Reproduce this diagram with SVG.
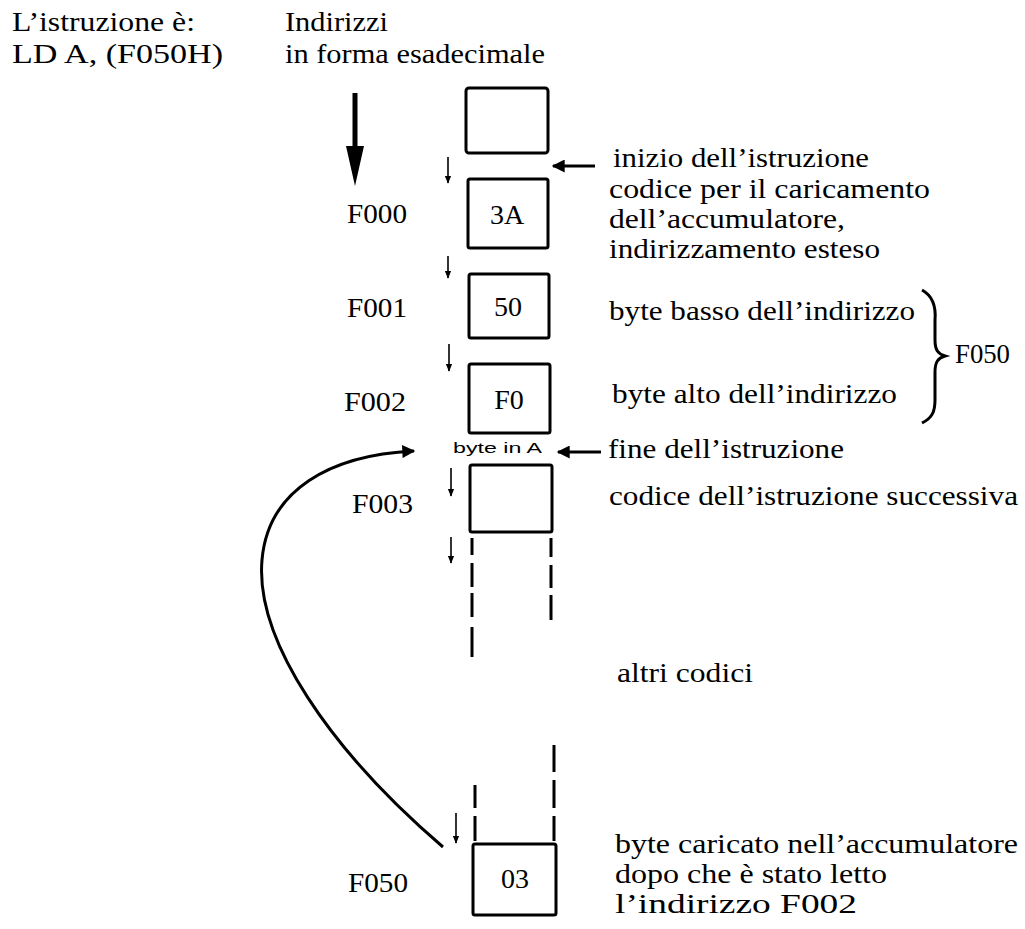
<svg xmlns="http://www.w3.org/2000/svg" width="1025" height="929" viewBox="0 0 1025 929">
<defs>
<style>
.t{font-family:"Liberation Serif","Times New Roman",serif;font-size:28px;fill:#000}
.h{font-family:"Liberation Serif","Times New Roman",serif;font-size:27px;fill:#000}
.s{font-family:"Liberation Sans",Arial,sans-serif;font-size:15px;fill:#000}
.c{text-anchor:middle}
.box{fill:none;stroke:#000;stroke-width:3;stroke-linejoin:round}
.ln{fill:none;stroke:#000;stroke-width:1.6}
.th{fill:none;stroke:#000;stroke-width:3}
.dash{fill:none;stroke:#000;stroke-width:3}
</style>
<marker id="sm" viewBox="0 0 10 10" refX="9" refY="5" markerWidth="8" markerHeight="8" markerUnits="userSpaceOnUse" orient="auto"><path d="M0,1 L10,5 L0,9 z" fill="#000"/></marker>
<marker id="md" viewBox="0 0 10 10" refX="9" refY="5" markerWidth="16" markerHeight="13" markerUnits="userSpaceOnUse" orient="auto"><path d="M0,0 L10,5 L0,10 z" fill="#000"/></marker>
</defs>
<rect width="1025" height="929" fill="#fff"/>

<g id="header">
<text class="h" x="12" y="31" textLength="183" lengthAdjust="spacingAndGlyphs">L’istruzione è:</text>
<text class="h" x="12" y="63" textLength="211" lengthAdjust="spacingAndGlyphs">LD A, (F050H)</text>
<text class="h" x="285" y="31" textLength="103" lengthAdjust="spacingAndGlyphs">Indirizzi</text>
<text class="h" x="285" y="63" textLength="260" lengthAdjust="spacingAndGlyphs">in forma esadecimale</text>
</g>

<g id="cell-top"><rect class="box" x="466" y="88" width="82" height="65" rx="3"/></g>
<g id="cell-F000"><rect class="box" x="468" y="179" width="80" height="69" rx="2"/><text class="t c" x="507" y="224">3A</text><text class="t" x="347" y="223" textLength="60" lengthAdjust="spacingAndGlyphs">F000</text></g>
<g id="cell-F001"><rect class="box" x="469" y="274" width="80" height="64" rx="2"/><text class="t c" x="508" y="316">50</text><text class="t" x="347" y="317" textLength="60" lengthAdjust="spacingAndGlyphs">F001</text></g>
<g id="cell-F002"><rect class="box" x="469" y="364" width="81" height="69" rx="2"/><text class="t c" x="509" y="409">F0</text><text class="t" x="344" y="411" textLength="62" lengthAdjust="spacingAndGlyphs">F002</text></g>
<g id="byte-in-A"><text class="s" x="453" y="453" textLength="89" lengthAdjust="spacingAndGlyphs">byte in A</text></g>
<g id="cell-F003"><rect class="box" x="470" y="465" width="82" height="67" rx="2"/><text class="t" x="352" y="513" textLength="61" lengthAdjust="spacingAndGlyphs">F003</text></g>
<g id="cell-F050"><rect class="box" x="473" y="844" width="83" height="71" rx="2"/><text class="t c" x="515" y="888">03</text><text class="t" x="348" y="892" textLength="60" lengthAdjust="spacingAndGlyphs">F050</text></g>

<g id="labels">
<text class="t" x="613" y="167" textLength="256" lengthAdjust="spacingAndGlyphs">inizio dell’istruzione</text>
<text class="t" x="609" y="198" textLength="321" lengthAdjust="spacingAndGlyphs">codice per il caricamento</text>
<text class="t" x="609" y="228" textLength="236" lengthAdjust="spacingAndGlyphs">dell’accumulatore,</text>
<text class="t" x="609" y="258" textLength="271" lengthAdjust="spacingAndGlyphs">indirizzamento esteso</text>
<text class="t" x="609" y="320" textLength="306" lengthAdjust="spacingAndGlyphs">byte basso dell’indirizzo</text>
<text class="t" x="612" y="403" textLength="285" lengthAdjust="spacingAndGlyphs">byte alto dell’indirizzo</text>
<text class="t" x="955" y="363" textLength="55" lengthAdjust="spacingAndGlyphs">F050</text>
<text class="t" x="608" y="458" textLength="236" lengthAdjust="spacingAndGlyphs">fine dell’istruzione</text>
<text class="t" x="609" y="505" textLength="409" lengthAdjust="spacingAndGlyphs">codice dell’istruzione successiva</text>
<text class="t" x="617" y="682" textLength="136" lengthAdjust="spacingAndGlyphs">altri codici</text>
<text class="t" x="615" y="853" textLength="403" lengthAdjust="spacingAndGlyphs">byte caricato nell’accumulatore</text>
<text class="t" x="615" y="883" textLength="272" lengthAdjust="spacingAndGlyphs">dopo che è stato letto</text>
<text class="t" x="615" y="913" textLength="242" lengthAdjust="spacingAndGlyphs">l’indirizzo F002</text>
</g>

<g id="brace"><path d="M922,290 C933,296 936,308 935,320 L935,340 C935,350 938,354 945,356 C938,358 935,362 935,372 L935,400 C935,412 932,418 922,423" fill="none" stroke="#000" stroke-width="3"/></g>

<g id="connectors">
<line x1="355" y1="93" x2="355" y2="150" stroke="#000" stroke-width="5"/>
<polygon points="346,146 364,146 355,186" fill="#000"/>
<line class="ln" x1="448" y1="157" x2="448" y2="183" marker-end="url(#sm)"/>
<line class="ln" x1="448" y1="256" x2="448" y2="278" marker-end="url(#sm)"/>
<line class="ln" x1="449" y1="344" x2="449" y2="371" marker-end="url(#sm)"/>
<line class="ln" x1="451" y1="468" x2="451" y2="496" marker-end="url(#sm)"/>
<line class="ln" x1="451" y1="537" x2="451" y2="563" marker-end="url(#sm)"/>
<line class="ln" x1="456" y1="813" x2="456" y2="843" marker-end="url(#sm)"/>
<line class="th" x1="595" y1="166" x2="553" y2="166" marker-end="url(#md)"/>
<line class="th" x1="601" y1="452" x2="558" y2="452" marker-end="url(#md)"/>
<path class="th" d="M443,847 C330,750 255,640 262,560 C268,490 330,455 414,451" marker-end="url(#md)"/>
<path class="dash" d="M472,538 V555 M472,563 V587 M472,593 V617 M472,627 V657"/>
<path class="dash" d="M551,538 V557 M551,565 V588 M551,595 V620"/>
<path class="dash" d="M554,745 V772 M554,780 V808 M554,816 V841"/>
<path class="dash" d="M475,785 V808 M475,816 V841"/>
</g>
</svg>
